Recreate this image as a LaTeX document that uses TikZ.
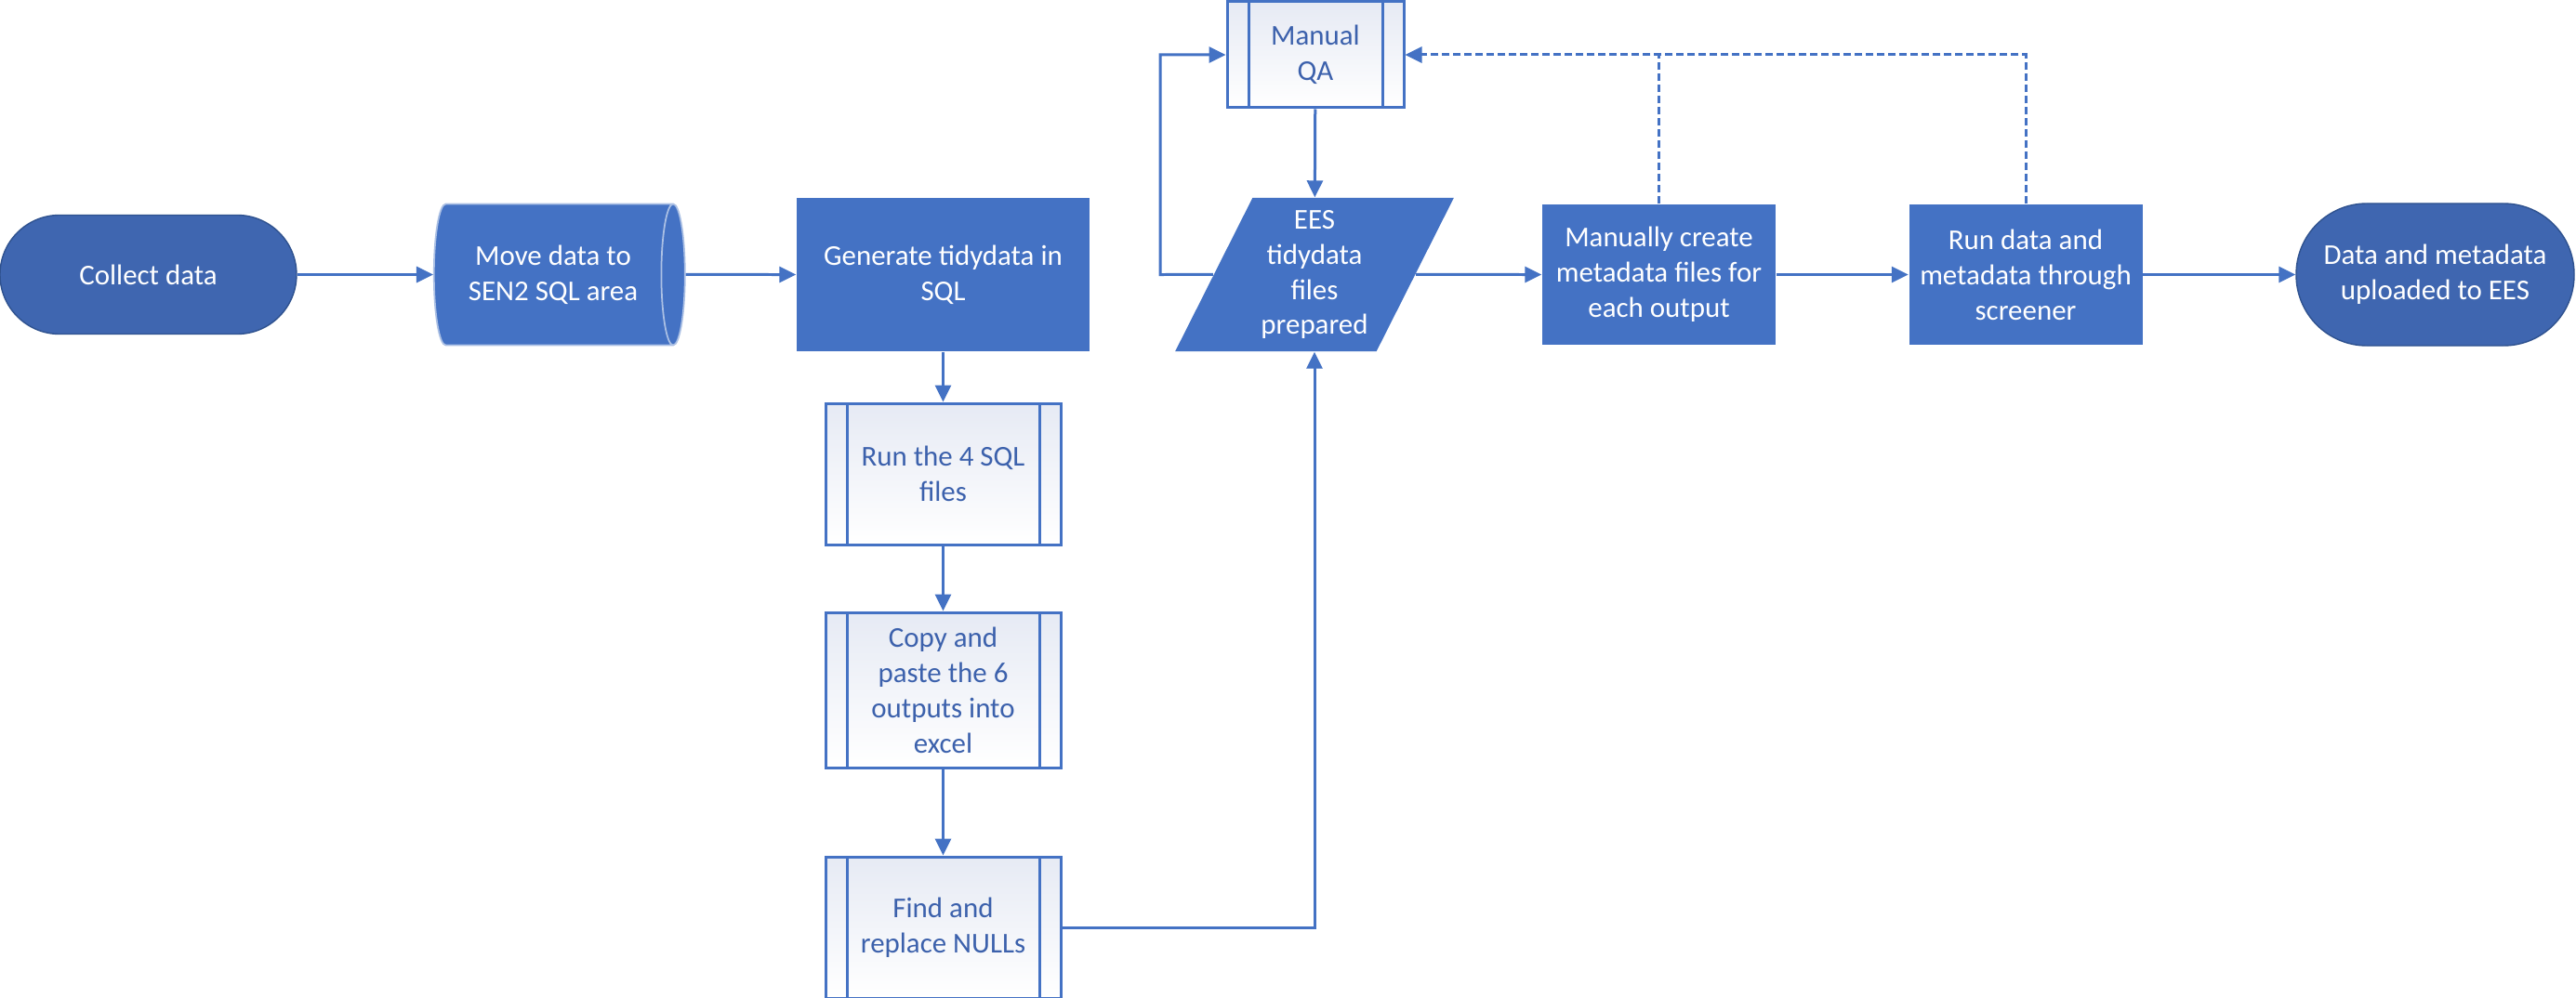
\documentclass[tikz,border=0pt]{standalone}
\usepackage{fontspec}
\setmainfont{Carlito}
\usetikzlibrary{shapes,arrows.meta,positioning}
\definecolor{boxblue}{HTML}{4472C4}
\definecolor{termblue}{HTML}{3F66B0}
\definecolor{termedge}{HTML}{2F528F}
\definecolor{subtext}{HTML}{3C61AC}
\definecolor{subfill}{HTML}{E6EAF4}

\begin{document}
\begin{tikzpicture}[% styles for the whole chart, override case-by-case
      every node/.style={
        align=center,     % so that "\\" breaks the line
        inner sep=0pt,
        font=\fontsize{8.8}{10.8}\selectfont
      },
      link/.style={draw=boxblue,line width=0.03cm},
      every edge/.style={link},
      flow/.style={-{Triangle[length=0.18cm,width=0.17cm]}},
      dashline/.style={dash pattern=on 0.08cm off 0.04cm},
      process/.style={rectangle,fill=boxblue,text=white,
        minimum width=2.51cm,minimum height=1.51cm},
      terminal/.style={rectangle,fill=termblue,draw=termedge,
        line width=0.4pt,text=white},
      subproc/.style={rectangle,draw=boxblue,line width=0.03cm,
        top color=subfill,bottom color=white,
        text=subtext,minimum width=2.53cm,
        path picture={% the two side bars
          \draw[boxblue,line width=0.03cm]
            ([xshift=0.23cm]path picture bounding box.north west) --
            ([xshift=0.23cm]path picture bounding box.south west)
            ([xshift=-0.23cm]path picture bounding box.north east) --
            ([xshift=-0.23cm]path picture bounding box.south east);
        }
      }
    ]
    \fill[white] (0,0) rectangle (27.71,-10.74);
    \useasboundingbox (0,0) rectangle (27.71,-10.74);

    % main row
    \node[terminal,rounded corners=0.64cm,minimum width=3.19cm,
      minimum height=1.28cm](T1) at (1.595,-2.955){Collect data};
    \node[cylinder,aspect=0.4,fill=boxblue,draw=white!55!boxblue,
      line width=0.5pt,text=white,minimum width=1.52cm,
      minimum height=2.70cm](D1) at (5.95,-2.955){Move data to\\SEN2 SQL area};
    \node[process,minimum width=3.15cm,minimum height=1.65cm](P1)
      at (10.145,-2.955){Generate tidydata in\\SQL};
    \node[trapezium,trapezium left angle=62.7,trapezium right angle=117.3,
      trapezium stretches=true,fill=boxblue,text=white,
      minimum width=3.02cm,minimum height=1.65cm](E1)
      at (14.14,-2.955){EES\\tidydata\\files\\prepared};
    \node[process](P2) at (17.845,-2.955){Manually create\\metadata files for\\each output};
    \node[process](P3) at (21.79,-2.955){Run data and\\metadata through\\screener};
    \node[terminal,rounded corners=0.76cm,minimum width=2.99cm,
      minimum height=1.53cm](T2) at (26.195,-2.955){Data and metadata\\uploaded to EES};

    % sub-processes
    \node[subproc,minimum width=1.90cm,minimum height=1.14cm](Q1)
      at (14.15,-0.59){Manual\\QA};
    \node[subproc,minimum height=1.52cm](S1) at (10.145,-5.10){Run the 4 SQL\\files};
    \node[subproc,minimum height=1.67cm](S2) at (10.145,-7.425){Copy and\\paste the 6\\outputs into\\excel};
    \node[subproc,minimum height=1.52cm](S3) at (10.145,-9.98){Find and\\replace NULLs};

    \coordinate (L1) at (12.48,-2.955);

    \path[flow]
    (T1) edge (D1)
    (D1) edge (P1)
    (P1) edge (S1)
    (S1) edge (S2)
    (S2) edge (S3)
    (Q1) edge (E1)
    (E1) edge (P2)
    (P2) edge (P3)
    (P3) edge (T2)
    ;
    \draw[link,flow] (S3.east) -| (E1.south);
    \draw[link,flow] (E1.west) -- (L1) |- (Q1.west);
    \draw[link,flow,dashline] (P3.north) |- (Q1.east);
    \draw[link,dashline] (P2.north) -- (P2.north |- Q1.east);
  \end{tikzpicture}
\end{document}
